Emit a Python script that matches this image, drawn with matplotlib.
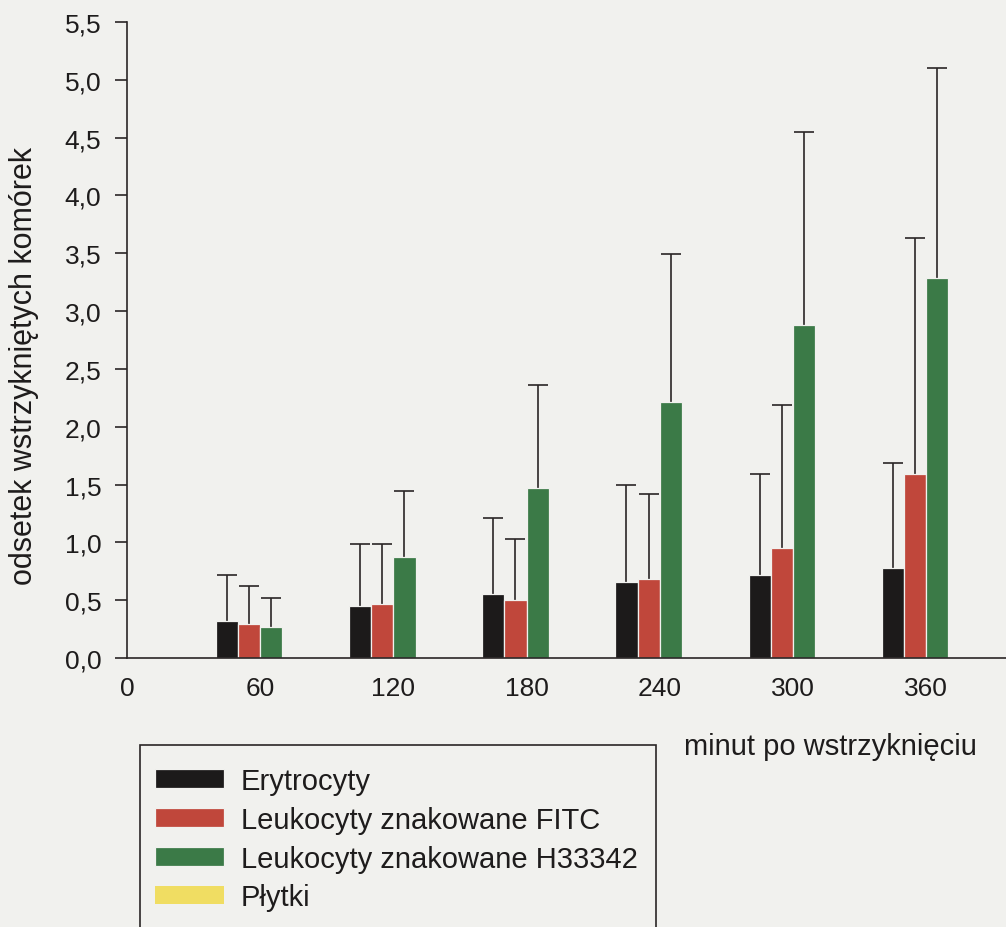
import matplotlib
matplotlib.use("Agg")
import matplotlib.pyplot as plt
import numpy as np
from matplotlib.patches import Rectangle
from matplotlib.ticker import FuncFormatter

plt.rcParams['font.family'] = ['Liberation Sans', 'DejaVu Sans']

# ---- data ----
minutes = [60, 120, 180, 240, 300, 360]
x_ticks = [0, 60, 120, 180, 240, 300, 360]
y_ticks = [0.0, 0.5, 1.0, 1.5, 2.0, 2.5, 3.0, 3.5, 4.0, 4.5, 5.0, 5.5]

series_names = ["Erytrocyty", "Leukocyty znakowane FITC",
                "Leukocyty znakowane H33342", "Płytki"]
erytrocyty = [0.32, 0.45, 0.55, 0.66, 0.72, 0.78]
erytrocyty_top = [0.72, 0.99, 1.21, 1.50, 1.59, 1.69]
fitc = [0.29, 0.47, 0.50, 0.68, 0.95, 1.59]
fitc_top = [0.62, 0.99, 1.03, 1.42, 2.19, 3.63]
h33342 = [0.27, 0.87, 1.47, 2.21, 2.88, 3.29]
h33342_top = [0.52, 1.44, 2.36, 3.49, 4.55, 5.10]
plytki = [0, 0, 0, 0, 0, 0]
plytki_top = [0, 0, 0, 0, 0, 0]

values = [erytrocyty, fitc, h33342, plytki]
tops = [erytrocyty_top, fitc_top, h33342_top, plytki_top]
colors = ["#1c1a1a", "#c0473b", "#3b7a47", "#f0dd62"]

bg = "#f1f1ee"
ink = "#1e1c1c"
line_c = "#2a2626"
fig = plt.figure(figsize=(10.06, 9.28), dpi=100, facecolor=bg)
ax = fig.add_axes([0.1262, 0.2899, 0.8738, 0.6853], facecolor=bg)

bw = 10.0
x = np.array(minutes, dtype=float)
handles = []
for i, (vals, tp, c, name) in enumerate(zip(values, tops, colors, series_names)):
    pos = x + (i - 1.5) * bw
    v = np.array(vals, dtype=float)
    t = np.array(tp, dtype=float)
    if i < 3:
        b = ax.bar(pos, v, width=bw, color=c, edgecolor=bg, linewidth=0.9,
                   label=name, zorder=2)
        eb = ax.errorbar(pos, v, yerr=[np.zeros_like(v), t - v], fmt='none',
                         ecolor=line_c, elinewidth=1.2, capsize=7, capthick=1.2,
                         zorder=1)
        # keep only the upper caps
        caps = eb[1]
        if len(caps) == 2:
            caps[0].set_visible(False)
    else:
        b = ax.bar(pos, v, width=bw, color=c, linewidth=0, label=name, zorder=2)
    handles.append(b)

ax.set_xlim(0, 396)
ax.set_ylim(0, 5.5)
ax.set_xticks(x_ticks)
ax.set_xticklabels([str(v) for v in x_ticks])
ax.set_yticks(y_ticks)
ax.yaxis.set_major_formatter(FuncFormatter(lambda v, p: f"{v:.1f}".replace('.', ',')))

for s in ['top', 'right']:
    ax.spines[s].set_visible(False)
for s in ['left', 'bottom']:
    ax.spines[s].set_linewidth(1.2)
    ax.spines[s].set_color(line_c)

ax.tick_params(axis='y', length=8.5, width=1.2, color=line_c, pad=10,
               labelsize=19, labelcolor=ink)
ax.tick_params(axis='x', length=0, pad=13, labelsize=19, labelcolor=ink)

ax.set_ylabel("odsetek wstrzykniętych komórek", fontsize=22, color=ink)
ax.yaxis.set_label_coords(-0.100, 0.461)
ax.set_xlabel("minut po wstrzyknięciu", fontsize=21, color=ink)
ax.xaxis.set_label_coords(0.80, -0.116)

# legend
leg = fig.legend(handles=handles, labels=series_names, loc='upper left',
                 bbox_to_anchor=(155 / 1006, 1 - 768 / 928), frameon=False,
                 fontsize=21, handlelength=2.35, handleheight=0.6,
                 handletextpad=0.6, labelspacing=0.37, borderpad=0,
                 borderaxespad=0)
for t in leg.get_texts():
    t.set_color(ink)
fig.patches.append(Rectangle((140 / 1006, -0.05), 516 / 1006, 0.05 + 1 - 746 / 928,
                             transform=fig.transFigure, fill=False,
                             edgecolor=line_c, linewidth=1.2))

fig.savefig("out.png", dpi=100, facecolor=bg)
